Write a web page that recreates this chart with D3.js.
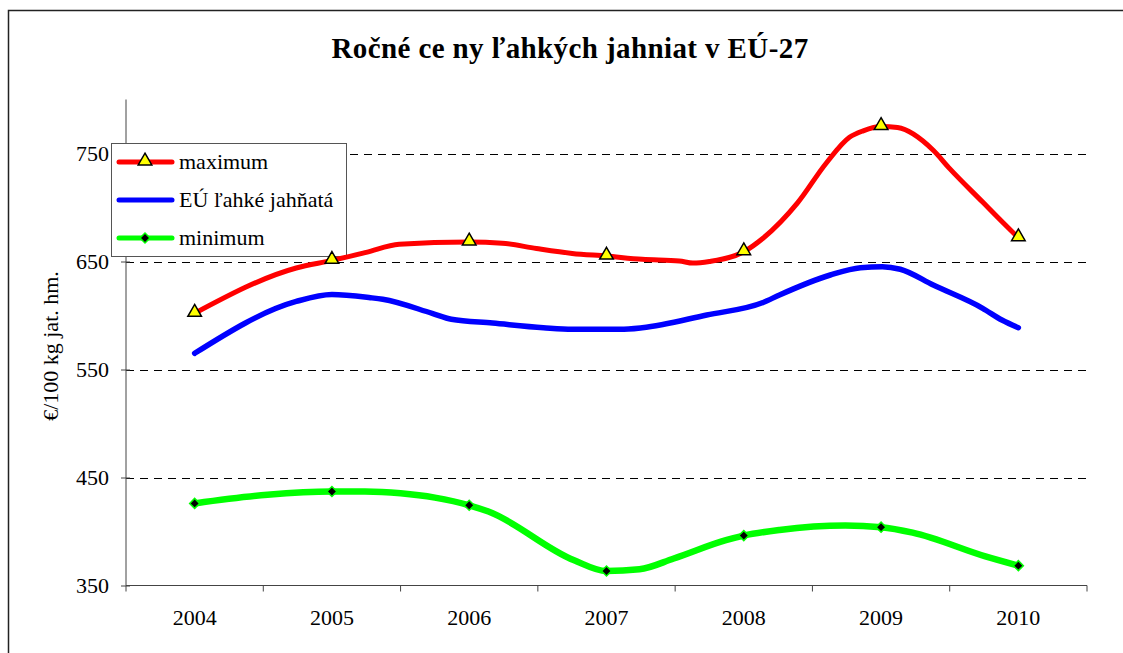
<!DOCTYPE html>
<html>
<head>
<meta charset="utf-8">
<script src="https://cdn.jsdelivr.net/npm/d3@7"></script>
<style>
  html, body { margin: 0; padding: 0; background: #fff; }
  svg { display: block; }
  text { font-family: "Liberation Serif", "Times New Roman", serif; fill: #000; }
</style>
</head>
<body>
<svg id="chart" width="1123" height="653"></svg>
<script>
// Categories and axis ticks
const years = ["2004", "2005", "2006", "2007", "2008", "2009", "2010"];
const yTicks = [350, 450, 550, 650, 750];

// Yearly marker values (€/100 kg)
const maxYearly = [602, 651, 668, 655, 659, 775, 672];
const minYearly = [426, 437, 424.3, 363.4, 396.2, 404, 368.4];

// Price paths over time (position in years, value)
const maxT = [2004, 2004.74, 2005, 2005.25, 2005.49, 2006, 2006.24, 2006.49, 2006.75, 2007, 2007.26, 2007.53, 2007.63, 2007.75, 2008, 2008.14, 2008.39, 2008.6, 2008.77, 2008.87, 2009, 2009.12, 2009.38, 2009.5, 2009.74, 2009.88, 2010];
const maxV = [602, 644, 651, 658.5, 666, 668, 667, 662, 657.5, 655, 652, 650.5, 648.5, 650, 659, 671.5, 704, 741, 765, 771, 775, 774, 753, 736, 705, 687, 672];

const euT = [2004, 2004.74, 2005, 2005.28, 2005.37, 2005.73, 2005.87, 2006.17, 2006.54, 2006.75, 2007.1, 2007.26, 2007.73, 2008.14, 2008.26, 2008.63, 2008.85, 2009.01, 2009.14, 2009.38, 2009.74, 2009.88, 2010];
const euV = [565, 613, 619.5, 616.5, 615, 602, 596.5, 593, 588.7, 587.2, 587.2, 588.7, 600.5, 612, 619, 637.5, 644.3, 645.2, 642.8, 628.2, 606.7, 595.8, 588.7];

const minT = [2004, 2004.53, 2005, 2005.24, 2005.5, 2005.75, 2006, 2006.14, 2006.76, 2007, 2007.24, 2007.49, 2007.87, 2008, 2008.26, 2008.74, 2009, 2009.23, 2009.76, 2010];
const minV = [426, 434, 437, 437, 435.4, 431.4, 424.3, 418.5, 373.6, 363.4, 365, 375, 392, 396.2, 401.4, 405.5, 404, 399, 377, 368.4];

const seriesNames = ["maximum", "EÚ ľahké jahňatá", "minimum"];
const colors = ["#ff0000", "#0000ff", "#00ff00"];

const svg = d3.select("#chart");
const serif = "'Liberation Serif', 'Times New Roman', serif";

const plotLeft = 126, plotRight = 1087, plotTop = 99.5, plotBottom = 585.5;

const xBand = d3.scaleBand().domain(years).range([plotLeft, plotRight]);
const x = d3.scaleLinear().domain([2003.5, 2010.5]).range([plotLeft, plotRight]);
const y = d3.scaleLinear().domain([350, 800]).range([plotBottom, plotTop]);

// Outer frame
svg.append("rect")
  .attr("x", 8.5).attr("y", 10.5)
  .attr("width", 1300).attr("height", 800)
  .attr("fill", "none").attr("stroke", "#222").attr("stroke-width", 1.5);

// Title
svg.append("text")
  .attr("x", 570).attr("y", 58)
  .attr("text-anchor", "middle")
  .style("font-family", serif)
  .style("font-size", "29px").style("font-weight", "bold")
  .style("letter-spacing", "0.4px")
  .text("Ročné ce ny ľahkých jahniat v EÚ-27");

// Horizontal dashed gridlines
svg.append("g").selectAll("line")
  .data(yTicks.filter(d => d > 350))
  .join("line")
  .attr("x1", plotLeft).attr("x2", plotRight)
  .attr("y1", d => Math.round(y(d)) + 0.5).attr("y2", d => Math.round(y(d)) + 0.5)
  .attr("stroke", "#000").attr("stroke-width", 1)
  .attr("stroke-dasharray", "8,6");

// Y axis
const yAxis = svg.append("g")
  .attr("transform", `translate(${plotLeft},0)`)
  .call(d3.axisLeft(y).tickValues(yTicks).tickSize(5).tickPadding(12).tickFormat(d3.format("d")));
yAxis.select(".domain").attr("d", `M0,${plotBottom}V${plotTop}`).attr("stroke", "#444");
yAxis.selectAll(".tick line").attr("x2", 4).attr("x1", -5).attr("stroke", "#444");
yAxis.selectAll(".tick text").style("font-size", "22px").style("font-family", serif);

// X axis: ticks at category boundaries, labels centred
const xAxis = svg.append("g")
  .attr("transform", `translate(0,${plotBottom})`)
  .call(d3.axisBottom(xBand).tickSize(0).tickPadding(24));
xAxis.select(".domain").attr("d", `M${plotLeft},0H${plotRight}`).attr("stroke", "#444");
xAxis.selectAll(".tick text").style("font-size", "22px").style("font-family", serif);
xAxis.append("g").selectAll("line")
  .data(years.map(d => xBand(d)).concat([plotRight]))
  .join("line")
  .attr("x1", d => d).attr("x2", d => d)
  .attr("y1", 0).attr("y2", 6)
  .attr("stroke", "#444");

// Y axis title
svg.append("text")
  .attr("transform", `translate(58,346) rotate(-90)`)
  .attr("text-anchor", "middle")
  .style("font-family", serif)
  .style("font-size", "22px")
  .text("€/100 kg jat. hm.");

// Marker shapes
const triangle = d3.symbol().type(d3.symbolTriangle).size(80);
const square = d3.symbol().type(d3.symbolSquare).size(50);

// Legend
const lg = svg.append("g");
lg.append("rect")
  .attr("x", 111.5).attr("y", 143.5).attr("width", 235).attr("height", 113)
  .attr("fill", "#fff").attr("stroke", "#555").attr("stroke-width", 1);
const legendY = [162, 200, 238];
seriesNames.forEach((name, i) => {
  lg.append("line")
    .attr("x1", 119).attr("x2", 172)
    .attr("y1", legendY[i]).attr("y2", legendY[i])
    .attr("stroke", colors[i]).attr("stroke-width", 5).attr("stroke-linecap", "round");
  lg.append("text")
    .attr("x", 179).attr("y", legendY[i] + 7)
    .style("font-family", serif)
    .style("font-size", "22px")
    .text(name);
});
lg.append("path").attr("d", triangle)
  .attr("transform", `translate(145,${legendY[0] - 1})`)
  .attr("fill", "#ffff00").attr("stroke", "#000").attr("stroke-width", 1.5);
lg.append("path").attr("d", square)
  .attr("transform", `translate(145,${legendY[2]}) rotate(45)`)
  .attr("fill", "#000").attr("stroke", "#00ff00").attr("stroke-width", 1.5);

// Series lines
const line = d3.line().x(d => x(d[0])).y(d => y(d[1])).curve(d3.curveMonotoneX);
const paths = [
  d3.zip(maxT, maxV),
  d3.zip(euT, euV),
  d3.zip(minT, minV)
];
const widths = [5, 5.5, 6.5];
paths.forEach((p, i) => {
  svg.append("path")
    .datum(p)
    .attr("d", line)
    .attr("fill", "none")
    .attr("stroke", colors[i])
    .attr("stroke-width", widths[i])
    .attr("stroke-linejoin", "round")
    .attr("stroke-linecap", "round");
});

// Yearly markers
svg.append("g").selectAll("path")
  .data(maxYearly)
  .join("path")
  .attr("d", triangle)
  .attr("transform", (d, i) => `translate(${xBand(years[i]) + xBand.bandwidth() / 2},${y(d) - 1})`)
  .attr("fill", "#ffff00").attr("stroke", "#000").attr("stroke-width", 1.5);

svg.append("g").selectAll("path")
  .data(minYearly)
  .join("path")
  .attr("d", square)
  .attr("transform", (d, i) => `translate(${xBand(years[i]) + xBand.bandwidth() / 2},${y(d)}) rotate(45)`)
  .attr("fill", "#000").attr("stroke", "#00ff00").attr("stroke-width", 1.5);
</script>
</body>
</html>
